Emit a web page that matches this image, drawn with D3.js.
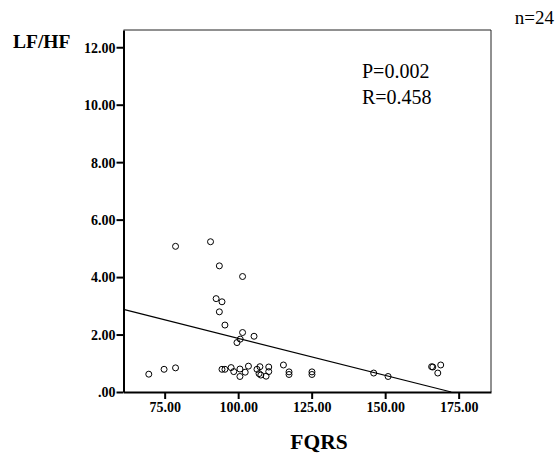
<!DOCTYPE html>
<html><head><meta charset="utf-8">
<script src="https://cdn.jsdelivr.net/npm/d3@7"></script>
<style>body{margin:0;background:#fff}svg{display:block}text{font-family:"Liberation Serif","Times New Roman",serif}</style>
</head><body><svg id="c" width="560" height="455"></svg>
<script>
const fqrs = [69.6,74.8,78.7,78.7,90.6,93.6,101.5,92.5,94.5,93.6,95.5,101.5,105.4,100.7,99.6,94.5,95.5,97.6,98.5,100.6,100.6,102.4,103.5,106.4,107.4,107.1,107.7,109.5,110.4,110.4,115.4,117.3,117.3,125.1,125.1,146.1,151.0,165.8,166.2,168.9,167.9];
const lfhf = [0.62,0.79,0.84,5.07,5.23,4.39,4.02,3.25,3.14,2.79,2.33,2.07,1.94,1.84,1.72,0.79,0.79,0.85,0.71,0.80,0.54,0.69,0.90,0.79,0.88,0.64,0.59,0.55,0.87,0.71,0.94,0.70,0.61,0.70,0.61,0.66,0.54,0.88,0.87,0.94,0.66];
const xTicks = [75,100,125,150,175];
const yTicks = [0,2,4,6,8,10,12];
const fitIntercept = 4.45, fitSlope = -0.0258;
const xDomain = [61, 186], yDomain = [0, 12.6];

const svg = d3.select("#c");
const L=123.5, R=491, T=30, B=392;
const x = d3.scaleLinear().domain(xDomain).range([L,R]);
const y = d3.scaleLinear().domain(yDomain).range([B,T]);
const fmt = v => v===0 ? ".00" : d3.format(".2f")(v);

svg.append("path").attr("d",`M${L},${T}H${R}V${B}`).attr("fill","none").attr("stroke","#222").attr("stroke-width",1);

const gx = svg.append("g").attr("transform",`translate(0,${B})`)
  .call(d3.axisBottom(x).tickValues(xTicks).tickFormat(fmt).tickSize(7).tickSizeOuter(0));
const gy = svg.append("g").attr("transform",`translate(${L},0)`)
  .call(d3.axisLeft(y).tickValues(yTicks).tickFormat(fmt).tickSize(7).tickSizeOuter(0));
[gx,gy].forEach(g=>{
  g.select(".domain").attr("stroke","#000").attr("stroke-width",2);
  g.selectAll(".tick line").attr("stroke","#000").attr("stroke-width",2);
  g.selectAll(".tick text").attr("font-family","Liberation Serif").attr("font-weight","bold").attr("font-size",14).attr("fill","#000");
});
gx.selectAll(".tick text").attr("dy","0.71em").attr("y",10);
gy.selectAll(".tick text").attr("x",-8).attr("dy","0.35em");

const x0 = xDomain[0], x1 = -fitIntercept/fitSlope;
svg.append("line").attr("x1",x(x0)).attr("y1",y(fitIntercept+fitSlope*x0))
  .attr("x2",x(x1)).attr("y2",y(0)).attr("stroke","#000").attr("stroke-width",1.2);

svg.append("g").selectAll("circle").data(fqrs.map((v,i)=>[v,lfhf[i]])).join("circle")
  .attr("cx",d=>x(d[0])).attr("cy",d=>y(d[1])).attr("r",3)
  .attr("fill","none").attr("stroke","#000").attr("stroke-width",1);

svg.append("text").attr("x",13).attr("y",48).attr("font-size",19.5).attr("font-weight","bold").text("LF/HF");
svg.append("text").attr("x",319).attr("y",449).attr("text-anchor","middle").attr("font-size",21.5).attr("font-weight","bold").text("FQRS");
svg.append("text").attr("x",554).attr("y",24).attr("text-anchor","end").attr("font-size",19).text("n=24");
svg.append("text").attr("x",362).attr("y",78).attr("font-size",20).text("P=0.002");
svg.append("text").attr("x",362).attr("y",104).attr("font-size",20).text("R=0.458");
</script></body></html>
